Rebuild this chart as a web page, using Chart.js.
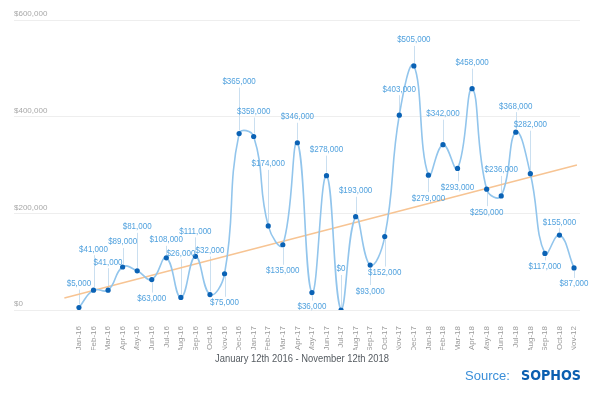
<!DOCTYPE html>
<html>
<head>
<meta charset="utf-8">
<script src="https://cdn.jsdelivr.net/npm/chart.js@4.4.1/dist/chart.umd.min.js"></script>
<style>
  html, body { margin: 0; padding: 0; background: #ffffff; }
  #wrap { width: 600px; height: 393px; position: relative; }
</style>
</head>
<body>
<div id="wrap"><canvas id="c" width="600" height="393"></canvas></div>
<script>
const months = ["Jan-16","Feb-16","Mar-16","Apr-16","May-16","Jun-16","Jul-16","Aug-16","Sep-16","Oct-16","Nov-16","Dec-16",
  "Jan-17","Feb-17","Mar-17","Apr-17","May-17","Jun-17","Jul-17","Aug-17","Sep-17","Oct-17","Nov-17","Dec-17",
  "Jan-18","Feb-18","Mar-18","Apr-18","May-18","Jun-18","Jul-18","Aug-18","Sep-18","Oct-18","Nov-12"];
const values = [5000,41000,41000,89000,81000,63000,108000,26000,111000,32000,75000,365000,
  359000,174000,135000,346000,36000,278000,0,193000,93000,152000,403000,505000,
  279000,342000,293000,458000,250000,236000,368000,282000,117000,155000,87000];
const trendX = [-1, 34.2];
const trendValues = [25000, 300000];
const yTicks = [0, 200000, 400000, 600000];
// label placement: vertical offset (px) of each value label from its point
const labelOffsets = [-24,-41,-28,-25,-44,19,-18,-44,-25,-44,29,-52,
  -25,-62,26,-26,14,-26,-41,-26,26,36,-26,-26,
  23,-31,19,-26,23,-26,-26,-49,13,-13,16];

const fmt = v => '$' + v.toLocaleString('en-US');
const labelFont = '9px "Liberation Sans", Arial, sans-serif';

function squeezedText(ctx, text, x, y, sx) {
  ctx.save();
  ctx.translate(x, y);
  ctx.scale(sx, 1);
  ctx.fillText(text, 0, 0);
  ctx.restore();
}

const labelPlugin = {
  id: 'valueLabels',
  beforeDatasetsDraw(chart) {
    const ctx = chart.ctx;
    const meta = chart.getDatasetMeta(0);
    ctx.save();
    ctx.strokeStyle = '#cadff0';
    ctx.lineWidth = 1;
    meta.data.forEach((pt, i) => {
      const off = labelOffsets[i];
      const ly = pt.y + off;
      let y1, y2;
      if (off < 0) { y1 = ly + 6; y2 = pt.y - 3; } else { y1 = ly - 6; y2 = pt.y + 3; }
      if ((off < 0 && y2 > y1) || (off > 0 && y2 < y1)) {
        ctx.beginPath();
        ctx.moveTo(Math.round(pt.x) + 0.5, y1);
        ctx.lineTo(Math.round(pt.x) + 0.5, y2);
        ctx.stroke();
      }
    });
    ctx.restore();
  },
  afterDatasetsDraw(chart) {
    const ctx = chart.ctx;
    const meta = chart.getDatasetMeta(0);
    ctx.save();
    ctx.font = labelFont;
    ctx.fillStyle = '#52a2de';
    ctx.textAlign = 'center';
    ctx.textBaseline = 'middle';
    meta.data.forEach((pt, i) => {
      squeezedText(ctx, fmt(values[i]), pt.x, pt.y + labelOffsets[i], 0.89);
    });
    ctx.restore();
  },
  afterDraw(chart) {
    const ctx = chart.ctx;
    ctx.save();
    ctx.fillStyle = '#555b61';
    ctx.font = '10px "Liberation Sans", Arial, sans-serif';
    ctx.textAlign = 'center';
    ctx.textBaseline = 'middle';
    squeezedText(ctx, 'January 12th 2016 - November 12th 2018', 302, 359, 0.94);
    ctx.textAlign = 'left';
    ctx.fillStyle = '#3b8fd9';
    ctx.font = '13px "Liberation Sans", Arial, sans-serif';
    ctx.fillText('Source:', 465, 376);
    ctx.fillStyle = '#0b5fb0';
    ctx.font = 'bold 14px "DejaVu Sans", sans-serif';
    squeezedText(ctx, 'SOPHOS', 521, 376, 0.91);
    ctx.restore();
  }
};

new Chart(document.getElementById('c'), {
  type: 'line',
  data: {
    datasets: [
      {
        data: values.map((v, i) => ({ x: i, y: v })),
        borderColor: '#92c5ec',
        borderWidth: 1.6,
        tension: 0.45,
        pointRadius: 2.6,
        pointBackgroundColor: '#0a62b5',
        pointBorderColor: '#0a62b5',
        pointBorderWidth: 0,
        fill: false,
        order: 1
      },
      {
        data: trendX.map((x, i) => ({ x: x, y: trendValues[i] })),
        borderColor: '#f7c493',
        borderWidth: 1.5,
        pointRadius: 0,
        tension: 0,
        fill: false,
        order: 2
      }
    ]
  },
  options: {
    responsive: false,
    animation: false,
    devicePixelRatio: 1,
    layout: { padding: { top: 20, left: 14, right: 20, bottom: 43 } },
    plugins: { legend: { display: false }, tooltip: { enabled: false }, title: { display: false } },
    scales: {
      x: {
        type: 'linear',
        min: -4.46,
        max: 34.41,
        grid: { display: false },
        border: { display: false },
        afterBuildTicks: s => { s.ticks = months.map((_, i) => ({ value: i })); },
        afterFit: s => { s.height = 40; },
        ticks: {
          autoSkip: false,
          minRotation: 90,
          maxRotation: 90,
          padding: 8,
          color: '#9a9a9a',
          font: { family: '"Liberation Sans", Arial, sans-serif', size: 8 },
          callback: v => months[v] !== undefined ? months[v] : ''
        }
      },
      y: {
        min: 0,
        max: 600000,
        afterBuildTicks: s => { s.ticks = yTicks.map(v => ({ value: v })); },
        afterFit: s => { s.width = 0; },
        grid: { color: '#eeeeee', lineWidth: 1, drawTicks: false },
        border: { display: false },
        ticks: {
          mirror: true,
          padding: 0,
          labelOffset: -6,
          color: '#a8a8a8',
          font: { family: '"Liberation Sans", Arial, sans-serif', size: 8 },
          callback: v => fmt(v)
        }
      }
    }
  },
  plugins: [labelPlugin]
});
</script>
</body>
</html>
